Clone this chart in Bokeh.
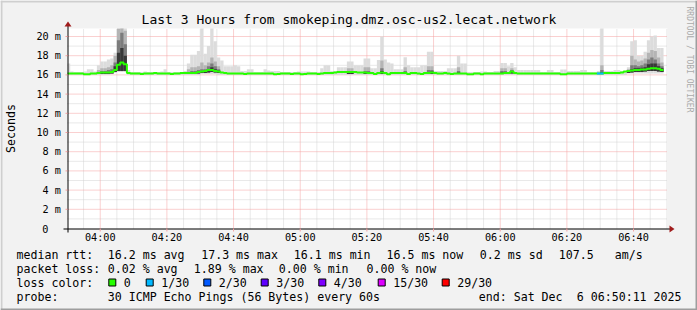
import numpy as np
from bokeh.plotting import figure
from bokeh.models import Range1d
from bokeh.core.properties import value
from bokeh.embed import file_html
from bokeh.resources import INLINE

# ---------------- data ----------------
title = "Last 3 Hours from smokeping.dmz.osc-us2.lecat.network"
y_axis_title = "Seconds"
watermark = "RRDTOOL / TOBI OETIKER"
start_time = "03:50:11"
end_time = "06:50:11"
first_step = "03:50"   # start of the first 60 s step shown

median_ms = [
    16.15, 16.15, 16.15, 16.15, 16.15, 16.08, 16.08, 16.15, 16.15, 16.2,
    16.25, 16.25, 16.25, 16.3, 16.5, 17.05, 17.3, 17.1, 16.2, 16.15,
    16.15, 16.15, 16.1, 16.15, 16.15, 16.15, 16.2, 16.15, 16.15, 16.15,
    16.15, 16.1, 16.15, 16.15, 16.2, 16.2, 16.2, 16.2, 16.2, 16.3,
    16.35, 16.4, 16.5, 16.5, 16.4, 16.35, 16.25, 16.2, 16.15, 16.15,
    16.15, 16.15, 16.15, 16.1, 16.15, 16.15, 16.15, 16.15, 16.15, 16.15,
    16.15, 16.15, 16.08, 16.1, 16.15, 16.15, 16.15, 16.1, 16.15, 16.15,
    16.08, 16.1, 16.15, 16.15, 16.15, 16.1, 16.15, 16.2, 16.2, 16.2,
    16.25, 16.3, 16.3, 16.3, 16.3, 16.3, 16.3, 16.25, 16.25, 16.25,
    16.2, 16.2, 16.1, 16.2, 16.25, 16.2, 16.08, 16.2, 16.2, 16.2,
    16.2, 16.2, 16.1, 16.2, 16.2, 16.15, 16.1, 16.2, 16.2, 16.25,
    16.2, 16.15, 16.15, 16.2, 16.15, 16.1, 16.15, 16.15, 16.15, 16.15,
    16.08, 16.08, 16.15, 16.15, 16.08, 16.15, 16.15, 16.15, 16.15, 16.15,
    16.15, 16.2, 16.2, 16.35, 16.2, 16.15, 16.15, 16.15, 16.15, 16.15,
    16.15, 16.15, 16.15, 16.15, 16.15, 16.15, 16.15, 16.15, 16.08, 16.08,
    16.15, 16.15, 16.15, 16.15, 16.15, 16.15, 16.15, 16.15, 16.15, 16.15,
    16.15, 16.2, 16.2, 16.2, 16.2, 16.2, 16.25, 16.35, 16.4, 16.45,
    16.5, 16.5, 16.55, 16.55, 16.65, 16.7, 16.7, 16.65, 16.5,
]
max_ms = [
    17.2, 16.35, 16.3, 16.3, 16.3, 16.35, 16.6, 16.6, 16.35, 17.0,
    17.4, 17.4, 17.6, 17.7, 18.3, 22.0, 22.0, 22.0, 16.5, 16.3,
    16.3, 16.3, 16.3, 16.35, 16.3, 16.3, 16.3, 16.3, 16.35, 16.6,
    16.3, 16.3, 16.3, 16.3, 16.3, 16.4, 17.2, 18.1, 18.1, 18.5,
    22.0, 18.2, 19.0, 22.0, 19.5, 17.8, 17.5, 16.9, 16.9, 16.9,
    17.0, 16.9, 16.4, 16.4, 16.6, 16.6, 16.3, 16.3, 16.3, 16.6,
    16.45, 16.4, 16.4, 16.4, 16.3, 16.3, 16.3, 16.3, 16.3, 16.35,
    16.35, 16.35, 16.35, 16.3, 16.3, 16.3, 16.7, 17.0, 17.0, 16.4,
    16.4, 16.8, 16.8, 16.8, 17.4, 17.4, 17.0, 17.0, 17.0, 17.7,
    17.7, 16.7, 16.7, 17.55, 20.0, 17.6, 17.3, 17.2, 16.6, 16.6,
    16.6, 17.85, 17.0, 16.8, 16.8, 16.8, 17.0, 17.0, 18.4, 18.4,
    16.4, 16.4, 16.4, 16.4, 16.7, 16.7, 16.7, 18.0, 17.2, 17.2,
    16.3, 16.3, 16.3, 16.3, 16.35, 16.35, 16.3, 16.3, 16.4, 16.4,
    17.25, 17.25, 16.9, 17.25, 16.8, 16.5, 16.5, 16.5, 16.5, 16.5,
    16.5, 16.5, 16.3, 16.3, 16.5, 16.5, 16.3, 16.3, 16.55, 16.55,
    16.4, 16.4, 16.4, 16.4, 16.5, 16.5, 16.3, 16.3, 16.3, 16.4,
    22.0, 16.4, 16.4, 16.4, 16.5, 16.5, 16.4, 16.4, 16.8, 19.5,
    19.6, 18.0, 18.0, 18.4, 19.6, 20.0, 20.1, 18.8, 18.8,
]
min_ms = [
    16.0, 16.0, 16.0, 16.0, 16.0, 16.0, 16.0, 16.0, 16.0, 16.0,
    16.0, 16.0, 16.0, 16.1, 16.2, 16.3, 16.3, 16.3, 16.0, 16.0,
    16.0, 16.0, 16.0, 16.0, 16.0, 16.0, 16.0, 16.0, 16.0, 16.0,
    16.0, 16.0, 16.0, 16.0, 16.0, 16.0, 16.0, 16.0, 16.0, 16.0,
    16.1, 16.1, 16.1, 16.1, 16.1, 16.0, 16.0, 16.0, 16.0, 16.0,
    16.0, 16.0, 16.0, 16.0, 16.0, 16.0, 16.0, 16.0, 16.0, 16.0,
    16.0, 16.0, 16.0, 16.0, 16.0, 16.0, 16.0, 16.0, 16.0, 16.0,
    16.0, 16.0, 16.0, 16.0, 16.0, 16.0, 16.0, 16.0, 16.0, 16.0,
    16.0, 16.0, 16.0, 16.0, 16.0, 16.0, 16.0, 16.0, 16.0, 16.0,
    16.0, 16.0, 16.0, 16.0, 16.0, 16.0, 16.0, 16.0, 16.0, 16.0,
    16.0, 16.0, 16.0, 16.0, 16.0, 16.0, 16.0, 16.0, 16.0, 16.0,
    16.0, 16.0, 16.0, 16.0, 16.0, 16.0, 16.0, 16.0, 16.0, 16.0,
    16.0, 16.0, 16.0, 16.0, 16.0, 16.0, 16.0, 16.0, 16.0, 16.0,
    16.0, 16.0, 16.0, 16.0, 16.0, 16.0, 16.0, 16.0, 16.0, 16.0,
    16.0, 16.0, 16.0, 16.0, 16.0, 16.0, 16.0, 16.0, 16.0, 16.0,
    16.0, 16.0, 16.0, 16.0, 16.0, 16.0, 16.0, 16.0, 16.0, 16.0,
    16.0, 16.0, 16.0, 16.0, 16.0, 16.0, 16.0, 16.0, 16.15, 16.15,
    16.15, 16.15, 16.15, 16.15, 16.15, 16.15, 16.15, 16.15, 16.15,
]
# steps with denser smoke (inner ping ranks)
dark_steps = [9, 10, 11, 12, 13, 14, 15, 16, 17,
              36, 37, 38, 39, 40, 41, 42, 43, 44, 45,
              84, 85, 89, 90, 94, 101, 108, 109, 117, 130, 131, 133, 160,
              168, 169, 170, 171, 172, 173, 174, 175, 176, 177, 178]
dark_lo = [16.1, 16.1, 16.1, 16.1, 16.15, 16.3, 16.4, 16.4, 16.4,
           16.1, 16.1, 16.1, 16.15, 16.2, 16.2, 16.25, 16.3, 16.25, 16.2,
           16.1, 16.1, 16.1, 16.1, 16.1, 16.1, 16.1, 16.1, 16.1, 16.1, 16.1, 16.15, 16.1,
           16.2, 16.25, 16.3, 16.3, 16.3, 16.35, 16.4, 16.4, 16.4, 16.35, 16.3]
dark_p90 = [16.5, 16.7, 16.7, 16.8, 17.0, 18.0, 20.8, 22.0, 20.6,
            16.6, 16.8, 16.8, 16.9, 17.3, 17.0, 17.3, 17.8, 17.4, 16.9,
            16.7, 16.7, 16.8, 16.8, 17.5, 16.8, 16.9, 16.9, 16.8, 16.7, 16.7, 16.7, 17.0,
            16.6, 18.0, 17.6, 17.4, 17.5, 17.7, 18.3, 18.6, 18.5, 17.8, 17.3]
dark_p75 = [16.3, 16.4, 16.4, 16.5, 16.6, 17.3, 19.6, 20.4, 19.2,
            16.3, 16.4, 16.4, 16.5, 16.6, 16.6, 16.9, 17.2, 16.9, 16.6,
            16.4, 16.4, 16.4, 16.4, 16.7, 16.4, 16.5, 16.5, 16.4, 16.4, 16.4, 16.5, 16.5,
            16.5, 17.0, 17.0, 16.9, 17.0, 17.2, 17.6, 17.8, 17.6, 17.2, 16.9]
dark_p60 = [16.25, 16.3, 16.3, 16.3, 16.4, 16.9, 18.3, 18.8, 18.0,
            16.2, 16.25, 16.25, 16.35, 16.4, 16.45, 16.6, 16.8, 16.6, 16.45,
            16.3, 16.3, 16.3, 16.3, 16.4, 16.3, 16.3, 16.35, 16.25, 16.25, 16.3, 16.4, 16.3,
            16.45, 16.6, 16.7, 16.7, 16.75, 16.8, 17.1, 17.2, 17.2, 16.9, 16.7]
loss_steps = [159, 160]
loss_pings = [1, 1]

y_ticks = [0, 2, 4, 6, 8, 10, 12, 14, 16, 18, 20]
y_tick_labels = ["0", "2 m", "4 m", "6 m", "8 m", "10 m", "12 m", "14 m", "16 m", "18 m", "20 m"]
x_tick_labels = ["04:00", "04:20", "04:40", "05:00", "05:20", "05:40", "06:00", "06:20", "06:40"]
x_minor_every = 5   # minutes
y_minor_every = 1   # ms

loss_counts = [0, 1, 2, 3, 4, 15, 29]
loss_labels = ["0", "1/30", "2/30", "3/30", "4/30", "15/30", "29/30"]
loss_colors = ["#26ff00", "#00b8ff", "#0059ff", "#5e00ff", "#7e00ff", "#dd00ff", "#ff0000"]

rtt_row = ["median rtt:", "16.2 ms avg", "17.3 ms max", "16.1 ms min", "16.5 ms now",
           "0.2 ms sd", "107.5", "am/s"]
pl_row = ["packet loss:", "0.02 % avg", "1.89 % max", "0.00 % min", "0.00 % now"]
probe_row = ["probe:", "30 ICMP Echo Pings (56 Bytes) every 60s", "end: Sat Dec", "6 06:50:11 2025"]

# ---------------- layout (pixels) ----------------
W, H = 697, 310
PL, PR, PT, PB = 67, 667, 28, 228
PX_PER_MS = 9.6
BG = "#f2f2f2"
MONO = "DejaVu Sans Mono"
GRID_MINOR = "#d2d2d2"
GRID_MAJOR = "#f4a0a0"

rtt_row_x = [16, 107.3, 200.7, 293.3, 386, 479.3, 558.3, 614.3]
pl_row_x = [16, 107.3, 193.3, 278.3, 366]
probe_row_x = [16, 107.3, 478.3, 576.3]
legend_sq_x = [108.3, 145.7, 203.3, 260.7, 318.3, 377.7, 441.7]
row_y = [254, 268, 282, 296]


def to_min(s):
    parts = [int(v) for v in s.split(":")]
    return parts[0] * 60 + parts[1] + (parts[2] / 60.0 if len(parts) > 2 else 0.0)


t0, t1 = to_min(start_time), to_min(end_time)
px_per_min = (PR - PL) / (t1 - t0)
y_top = (PB - PT) / PX_PER_MS

p = figure(width=W, height=H, x_range=Range1d(0, W), y_range=Range1d(H, 0),
           min_border=0, x_axis_location=None, y_axis_location=None,
           toolbar_location=None, output_backend="svg",
           background_fill_color=BG, border_fill_color=BG, outline_line_color=None)
p.grid.visible = False
p.extra_x_ranges = {"t": Range1d(t0 - PL / px_per_min, t0 + (W - PL) / px_per_min)}
p.extra_y_ranges = {"ms": Range1d(-(H - PB) / PX_PER_MS, PB / PX_PER_MS)}
TS = dict(x_range_name="t", y_range_name="ms")

# 3D frame of the image
p.quad(left=[0, 0], right=[W, 2], top=[0, 0], bottom=[2, H], fill_color="#cfcfcf", line_color=None)
p.quad(left=[W - 2, 0], right=[W, W], top=[0, H - 2], bottom=[H, H], fill_color="#9e9e9e", line_color=None)

# canvas
p.quad(left=[t0], right=[t1], bottom=[0], top=[y_top], fill_color="white", line_color=None, **TS)

# grid
major_t = np.array([to_min(s) for s in x_tick_labels])
minor_t = np.arange(np.ceil(t0 / x_minor_every) * x_minor_every, t1 + 0.01, x_minor_every)
minor_t = np.array([t for t in minor_t if t not in set(major_t)])
minor_y = np.array([v for v in np.arange(y_minor_every, y_top, y_minor_every) if v not in y_ticks])
major_y = np.array([v for v in y_ticks if v > 0])

p.segment(x0=minor_t, x1=minor_t, y0=0, y1=y_top, line_color=GRID_MINOR, line_dash="1 1", line_width=1, **TS)
p.segment(x0=t0, x1=t1, y0=minor_y, y1=minor_y, line_color=GRID_MINOR, line_dash="1 1", line_width=1, **TS)
p.segment(x0=major_t, x1=major_t, y0=0, y1=y_top, line_color=GRID_MAJOR, line_dash="1 1", line_width=1, **TS)
p.segment(x0=t0, x1=t1, y0=major_y, y1=major_y, line_color=GRID_MAJOR, line_dash="1 1", line_width=1, **TS)

# smoke
n = len(median_ms)
k = np.arange(n)
step0 = to_min(first_step)
left = np.maximum(step0 + k, t0)
right = step0 + k + 1
med = np.array(median_ms)
p.quad(left=left, right=right, bottom=np.array(min_ms), top=np.minimum(np.array(max_ms), y_top),
       fill_color="#dcdcdc", line_color=None, **TS)
dk = np.array(dark_steps)
for arr, col in ((dark_p90, "#b4b4b4"), (dark_p75, "#7c7c7c"), (dark_p60, "#383838")):
    p.quad(left=left[dk], right=right[dk], bottom=np.array(dark_lo),
           top=np.minimum(np.array(arr), y_top), fill_color=col, line_color=None, **TS)

# median line coloured by loss
p.step(x=np.append(left, right[-1]), y=np.append(med, med[-1]), mode="after",
       line_color=loss_colors[0], line_width=2, **TS)
ls = np.array(loss_steps)
lcol = [loss_colors[loss_counts.index(c)] for c in loss_pings]
p.segment(x0=left[ls], x1=right[ls], y0=med[ls], y1=med[ls], line_color=lcol,
          line_width=2, line_cap="butt", **TS)

# axes
p.segment(x0=[PL - 4], x1=[PR + 4], y0=[PB + 0.5], y1=[PB + 0.5], line_color="black", line_width=1)
p.segment(x0=[PL + 0.5], x1=[PL + 0.5], y0=[PB + 4], y1=[PT - 4], line_color="black", line_width=1)
p.patch(x=[PR + 2, PR + 2, PR + 7], y=[PB - 3, PB + 4, PB + 0.5], fill_color="#a01c1c", line_color=None)
p.patch(x=[PL - 3, PL + 4, PL + 0.5], y=[PT - 2, PT - 2, PT - 7], fill_color="#a01c1c", line_color=None)
# tick marks
p.segment(x0=major_t, x1=major_t, y0=-3 / PX_PER_MS, y1=0, line_color=GRID_MAJOR, line_width=1, **TS)
p.segment(x0=t0 - 2 / px_per_min, x1=t0, y0=major_y, y1=major_y, line_color=GRID_MAJOR, line_width=1, **TS)

# tick labels
p.text(x=major_t, y=[236.5] * len(major_t), text=x_tick_labels, x_range_name="t",
       text_font=value(MONO), text_font_size="10.2px", text_align="center", text_baseline="middle",
       text_color="black")
unit_idx = [i for i, s in enumerate(y_tick_labels) if " " in s]
zero_idx = [i for i, s in enumerate(y_tick_labels) if " " not in s]
p.text(x=[60.5] * len(unit_idx), y=[y_ticks[i] for i in unit_idx], text=[y_tick_labels[i] for i in unit_idx],
       y_range_name="ms", text_font=value(MONO), text_font_size="10.2px", text_align="right",
       text_baseline="middle", text_color="black")
p.text(x=[48] * len(zero_idx), y=[y_ticks[i] for i in zero_idx], text=[y_tick_labels[i] for i in zero_idx],
       y_range_name="ms", text_font=value(MONO), text_font_size="10.2px", text_align="right",
       text_baseline="middle", text_color="black")

# titles
p.text(x=[W / 2], y=[19], text=[title], text_font=value(MONO), text_font_size="13px",
       text_align="center", text_baseline="middle", text_color="black")
p.text(x=[10.5], y=[(PT + PB) / 2], text=[y_axis_title], angle=np.pi / 2, text_font=value(MONO),
       text_font_size="11.6px", text_align="center", text_baseline="middle", text_color="black")
p.text(x=[688.5], y=[59], text=[watermark], angle=-np.pi / 2, text_font=value(MONO),
       text_font_size="8px", text_align="center", text_baseline="middle", text_color="#aaaaaa")

# legend rows
for row, xs, yy in ((rtt_row, rtt_row_x, row_y[0]), (pl_row, pl_row_x, row_y[1]),
                    (probe_row, probe_row_x, row_y[3])):
    p.text(x=xs, y=[yy] * len(xs), text=row, text_font=value(MONO), text_font_size="11.6px",
           text_align="left", text_baseline="middle", text_color="black")
p.text(x=[16], y=[row_y[2]], text=["loss color:"], text_font=value(MONO), text_font_size="11.6px",
       text_align="left", text_baseline="middle", text_color="black")
sq = np.array(legend_sq_x)
p.quad(left=sq, right=sq + 7, top=[row_y[2] - 3.5] * len(sq), bottom=[row_y[2] + 3.5] * len(sq),
       fill_color=loss_colors, line_color="black", line_width=1)
p.text(x=sq + 15, y=[row_y[2]] * len(sq), text=loss_labels, text_font=value(MONO), text_font_size="11.6px",
       text_align="left", text_baseline="middle", text_color="black")

open("out.html", "w").write(file_html(p, INLINE))
